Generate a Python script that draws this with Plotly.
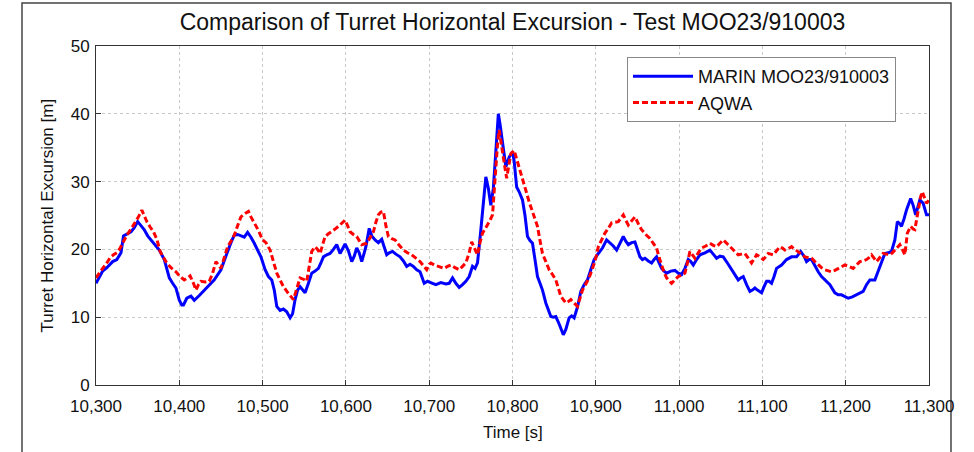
import plotly.graph_objects as go

marin_t = [10300,10302,10308,10313,10320,10325,10330,10333,10338,10342,10346,10350,10354,10358,10362,10366,10371,10376,10382,10385,10388,10392,10396,10400,10403,10405,10409,10414,10418,10424,10430,10436,10442,10450,10454,10458,10462,10466,10470,10474,10478,10482,10486,10490,10494,10498,10503,10507,10511,10514,10517,10521,10525,10529,10533,10536,10539,10542,10545,10548,10551,10555,10559,10563,10567,10570,10573,10577,10581,10585,10589,10593,10596,10599,10603,10607,10610,10613,10616,10619,10622,10624,10628,10631,10635,10639,10643,10646,10649,10652,10656,10660,10665,10669,10673,10677,10681,10685,10689,10694,10698,10704,10708,10714,10720,10724,10728,10732,10736,10740,10744,10748,10752,10755,10758,10762,10765,10768,10771,10774,10777,10780,10783,10785,10787,10790,10792,10796,10800,10802,10805,10808,10812,10815,10818,10821,10824,10827,10830,10833,10836,10840,10843,10846,10849,10852,10856,10861,10864,10868,10871,10874,10878,10882,10886,10890,10894,10898,10903,10908,10913,10917,10921,10925,10929,10933,10936,10939,10943,10947,10950,10953,10956,10959,10963,10967,10970,10973,10976,10979,10982,10985,10990,10995,10999,11003,11007,11011,11014,11017,11021,11025,11031,11037,11041,11045,11049,11053,11058,11063,11067,11071,11074,11077,11081,11085,11088,11091,11094,11099,11102,11105,11108,11111,11114,11117,11123,11129,11135,11141,11146,11150,11153,11156,11159,11163,11167,11171,11175,11181,11187,11191,11195,11199,11203,11208,11213,11217,11221,11225,11229,11235,11238,11241,11244,11247,11251,11255,11259,11262,11265,11267,11270,11273,11278,11281,11284,11287,11289,11293,11297,11300]
marin_v = [15.0,15.5,16.8,17.3,18.2,18.5,19.5,22.0,22.4,22.6,23.2,24.1,23.5,22.9,22.0,21.4,20.5,19.9,18.5,17.0,15.8,15.0,14.3,12.5,11.8,11.8,12.8,13.1,12.5,13.2,14.0,14.8,15.5,17.0,18.5,19.7,21.0,22.1,22.2,22.0,21.8,22.5,21.8,20.9,19.8,18.9,17.0,16.0,15.5,14.0,11.6,11.0,11.2,10.8,9.9,10.5,12.6,14.0,14.5,14.0,13.6,15.0,16.5,16.8,17.2,18.0,18.9,19.2,19.4,20.0,20.7,19.4,20.0,20.8,19.8,18.2,19.0,20.2,19.5,18.2,19.5,20.4,23.1,22.0,21.4,21.0,21.5,20.5,19.2,19.5,19.7,19.3,18.9,18.3,17.5,17.8,17.5,17.0,16.7,15.0,15.3,15.0,14.8,15.1,14.9,15.0,15.8,15.0,14.4,14.8,15.3,16.0,17.5,17.2,18.0,22.9,27.0,30.7,29.0,26.5,29.0,34.6,40.0,38.5,36.6,33.5,32.2,33.6,34.4,33.0,29.2,28.5,27.3,25.0,21.9,21.3,20.9,18.5,16.0,15.0,14.0,12.1,11.0,10.1,10.0,10.1,9.0,7.4,8.2,9.9,10.2,9.9,11.5,13.8,14.8,15.5,17.0,18.5,19.4,20.2,21.4,21.0,20.5,19.9,20.8,21.9,21.2,20.7,21.0,21.1,20.0,18.9,18.5,18.7,18.3,18.0,18.5,18.9,18.0,17.2,16.8,16.5,16.8,16.9,16.5,16.3,17.2,18.5,18.2,17.7,18.5,19.2,19.5,19.9,19.3,18.7,19.0,18.9,18.0,17.0,16.2,15.5,15.8,16.0,14.8,13.8,14.0,14.3,14.0,13.6,14.5,15.3,15.3,15.0,16.0,17.2,17.7,18.5,18.9,18.9,19.7,19.0,18.2,18.5,18.5,17.5,16.7,16.0,15.5,14.8,13.6,13.3,13.3,13.0,12.8,13.0,13.3,13.5,13.8,14.8,15.5,15.5,16.5,17.5,18.5,19.4,19.5,19.7,21.4,24.1,23.8,23.4,24.5,25.8,27.5,26.5,25.1,26.5,27.3,26.8,25.1,25.1]

aqwa_t = [10300,10302,10308,10313,10317,10321,10325,10329,10333,10337,10342,10347,10351,10355,10358,10361,10365,10369,10373,10377,10381,10385,10390,10396,10401,10406,10410,10413,10417,10420,10423,10426,10431,10436,10440,10444,10447,10450,10454,10458,10462,10466,10470,10474,10479,10483,10486,10490,10495,10500,10504,10509,10513,10517,10521,10525,10531,10537,10541,10545,10549,10553,10556,10559,10563,10566,10569,10572,10575,10579,10583,10587,10591,10595,10599,10602,10605,10609,10613,10616,10619,10622,10625,10629,10633,10636,10639,10642,10645,10648,10651,10655,10659,10664,10669,10674,10679,10684,10689,10693,10697,10700,10702,10706,10710,10714,10718,10722,10726,10731,10736,10740,10744,10748,10751,10755,10758,10761,10764,10767,10770,10773,10776,10778,10780,10782,10784,10786,10789,10791,10793,10796,10798,10802,10805,10808,10812,10816,10820,10824,10827,10830,10833,10836,10840,10844,10848,10852,10855,10858,10861,10864,10867,10870,10874,10878,10881,10884,10888,10892,10896,10900,10903,10907,10911,10915,10919,10923,10927,10930,10933,10936,10939,10943,10947,10951,10955,10960,10965,10969,10973,10976,10979,10982,10985,10988,10991,10995,10999,11003,11007,11010,11013,11016,11019,11023,11027,11032,11037,11041,11045,11049,11053,11058,11063,11067,11071,11075,11079,11083,11087,11090,11093,11096,11101,11104,11107,11110,11113,11117,11121,11124,11127,11131,11135,11139,11143,11147,11151,11155,11159,11163,11167,11171,11175,11179,11183,11187,11191,11195,11199,11204,11209,11213,11217,11221,11225,11228,11231,11234,11237,11241,11245,11249,11253,11256,11259,11262,11265,11268,11271,11274,11278,11281,11283,11286,11288,11290,11292,11295,11297,11300]
aqwa_v = [15.8,16.2,17.2,18.0,18.8,19.2,19.5,20.2,21.2,22.1,23.0,23.9,24.8,25.8,25.0,24.1,23.3,22.6,21.5,19.7,18.8,18.0,17.3,16.7,16.0,15.5,15.8,16.1,15.0,14.0,14.8,15.3,15.2,15.3,16.5,18.2,17.7,17.2,18.8,20.4,21.2,22.1,23.5,24.8,25.3,25.6,24.8,23.9,22.8,21.4,21.0,19.9,18.2,16.5,15.5,14.5,13.5,12.6,14.2,15.8,15.6,15.3,17.5,19.7,20.4,20.0,19.4,20.6,21.9,22.3,22.6,23.0,23.4,23.8,24.3,23.5,22.6,22.2,21.9,21.3,20.7,20.8,20.9,21.7,22.6,24.0,25.1,25.5,25.6,23.5,21.9,21.6,21.4,20.6,19.9,19.5,19.2,18.7,18.2,17.6,17.0,17.8,18.0,17.7,17.5,17.3,17.2,17.5,17.7,17.3,17.0,17.5,18.0,19.5,21.1,20.0,19.2,21.0,22.4,23.0,23.6,24.3,25.1,29.0,33.2,35.5,37.6,35.8,33.6,32.0,30.5,32.5,34.1,34.6,33.4,32.2,30.4,28.7,27.0,25.6,24.5,23.4,21.3,19.4,18.2,17.0,16.3,15.5,14.3,13.1,12.6,12.1,12.3,12.6,12.1,11.6,12.8,14.0,14.9,15.8,17.2,18.7,20.4,21.4,22.4,23.1,23.9,24.0,24.1,24.6,25.1,24.3,23.6,24.2,24.8,23.8,22.9,22.2,21.6,20.9,20.2,18.8,17.5,16.6,15.8,15.4,15.0,15.5,16.0,16.2,16.5,18.0,19.7,19.2,18.7,19.5,20.2,20.5,20.9,20.6,20.4,20.9,21.4,20.8,20.2,19.7,19.2,19.3,19.4,18.7,18.0,18.6,19.2,19.0,18.5,18.9,19.4,19.3,19.2,19.8,20.4,20.2,19.9,20.1,20.4,20.0,19.7,19.3,18.9,18.8,18.7,18.2,17.7,17.3,17.0,16.8,16.7,16.9,17.2,17.4,17.7,17.5,17.2,17.7,18.2,18.3,18.5,18.8,19.2,18.7,18.2,18.8,19.4,19.3,19.2,19.5,19.9,20.3,20.7,20.0,19.2,22.4,23.4,23.0,22.9,25.0,26.8,27.8,28.5,27.5,26.8,27.3]

x_ticks = [10300, 10400, 10500, 10600, 10700, 10800, 10900, 11000, 11100, 11200, 11300]
y_ticks = [0, 10, 20, 30, 40, 50]

FONT = "Liberation Sans, Arial, sans-serif"

fig = go.Figure()
fig.add_trace(go.Scatter(x=marin_t, y=marin_v, mode="lines", name="MARIN MOO23/910003",
                         line=dict(color="#0000ff", width=3)))
fig.add_trace(go.Scatter(x=aqwa_t, y=aqwa_v, mode="lines", name="AQWA",
                         line=dict(color="#ff0000", width=3, dash="6px,3px")))

axis_common = dict(showgrid=True, gridcolor="#c8c8c8", griddash="dot", gridwidth=1,
                   showline=True, linecolor="#333333", linewidth=1, mirror=True,
                   ticks="inside", ticklen=5, tickcolor="#333333",
                   tickfont=dict(family=FONT, size=17, color="#111111"), zeroline=False)

fig.update_xaxes(range=[10300, 11300], tickvals=x_ticks, tickformat=",d",
                 ticklabelstandoff=6, **axis_common)
fig.update_yaxes(range=[0, 50], tickvals=y_ticks, ticklabelstandoff=2, **axis_common)

fig.update_layout(
    width=974, height=452,
    margin=dict(l=96, r=45, t=46, b=67),
    paper_bgcolor="white", plot_bgcolor="white",
    title=dict(text="Comparison of Turret Horizontal Excursion - Test MOO23/910003",
               font=dict(family=FONT, size=23, color="#111111"),
               x=0.5, xref="paper", xanchor="center", y=1 - 22 / 452, yanchor="middle"),
    showlegend=True,
    legend=dict(x=(627 - 96) / 833, y=(385 - 57) / 339, xanchor="left", yanchor="top",
                bgcolor="white", bordercolor="#888888", borderwidth=1,
                font=dict(family=FONT, size=18, color="#111111"), itemwidth=60,
                tracegroupgap=0),
    annotations=[
        dict(text="Time [s]", xref="paper", yref="paper", x=0.5, y=(385 - 432) / 339,
             xanchor="center", yanchor="middle", showarrow=False,
             font=dict(family=FONT, size=17, color="#111111")),
        dict(text="Turret Horizontal Excursion [m]", xref="paper", yref="paper",
             x=(47 - 96) / 833, y=0.5, xanchor="center", yanchor="middle", textangle=-90,
             showarrow=False, font=dict(family=FONT, size=17, color="#111111")),
    ],
    shapes=[
        dict(type="rect", xref="paper", yref="paper",
             x0=(22 - 96) / 833, x1=(951 - 96) / 833, y0=-0.5, y1=(385 - 3) / 339,
             line=dict(color="#444444", width=1.5), fillcolor="rgba(0,0,0,0)", layer="below"),
    ],
)

fig.write_html("out.html")
